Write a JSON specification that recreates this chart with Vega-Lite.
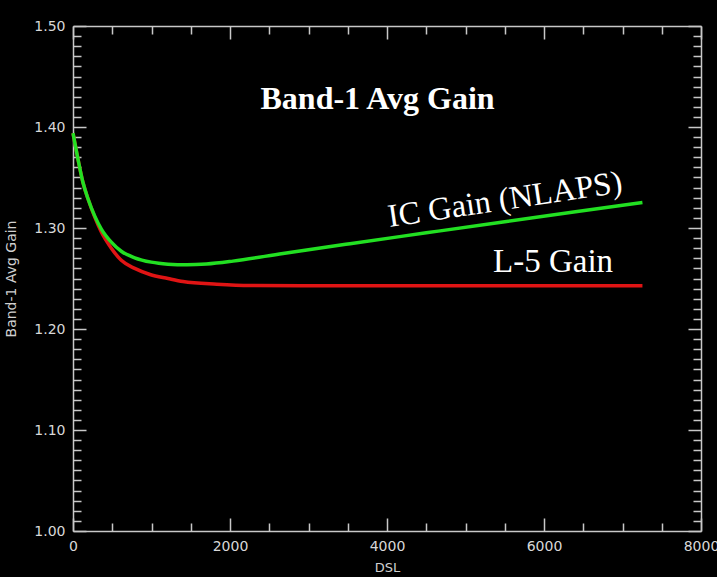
{
  "$schema": "https://vega.github.io/schema/vega-lite/v6.json",
  "width": 628,
  "height": 505,
  "autosize": "none",
  "padding": {"left": 73, "top": 26, "right": 16, "bottom": 46},
  "background": "black",
  "config": {
    "view": {"stroke": null},
    "axis": {
      "grid": false,
      "domainColor": "#c8c8c8",
      "domainWidth": 1.5,
      "tickColor": "#c8c8c8",
      "tickWidth": 1.5,
      "labelColor": "#d8d8d8",
      "labelFont": "DejaVu Sans",
      "labelFontSize": 14,
      "titleColor": "#d0d0d0",
      "titleFont": "DejaVu Sans",
      "titleFontSize": 13,
      "titleFontWeight": "normal"
    }
  },
  "datasets": {
    "curves": [
      {"series": "L-5 Gain", "dsl": 0, "gain": 1.394},
      {"series": "L-5 Gain", "dsl": 64, "gain": 1.368},
      {"series": "L-5 Gain", "dsl": 127, "gain": 1.345},
      {"series": "L-5 Gain", "dsl": 191, "gain": 1.329},
      {"series": "L-5 Gain", "dsl": 276, "gain": 1.311},
      {"series": "L-5 Gain", "dsl": 361, "gain": 1.296},
      {"series": "L-5 Gain", "dsl": 488, "gain": 1.28},
      {"series": "L-5 Gain", "dsl": 615, "gain": 1.268},
      {"series": "L-5 Gain", "dsl": 786, "gain": 1.26},
      {"series": "L-5 Gain", "dsl": 981, "gain": 1.254},
      {"series": "L-5 Gain", "dsl": 1210, "gain": 1.25},
      {"series": "L-5 Gain", "dsl": 1401, "gain": 1.247},
      {"series": "L-5 Gain", "dsl": 1831, "gain": 1.2443},
      {"series": "L-5 Gain", "dsl": 2255, "gain": 1.243},
      {"series": "L-5 Gain", "dsl": 3529, "gain": 1.2429},
      {"series": "L-5 Gain", "dsl": 5500, "gain": 1.2429},
      {"series": "L-5 Gain", "dsl": 7254, "gain": 1.2429},
      {"series": "IC Gain (NLAPS)", "dsl": 0, "gain": 1.394},
      {"series": "IC Gain (NLAPS)", "dsl": 64, "gain": 1.368},
      {"series": "IC Gain (NLAPS)", "dsl": 127, "gain": 1.345},
      {"series": "IC Gain (NLAPS)", "dsl": 191, "gain": 1.329},
      {"series": "IC Gain (NLAPS)", "dsl": 276, "gain": 1.312},
      {"series": "IC Gain (NLAPS)", "dsl": 361, "gain": 1.299},
      {"series": "IC Gain (NLAPS)", "dsl": 488, "gain": 1.286},
      {"series": "IC Gain (NLAPS)", "dsl": 615, "gain": 1.277},
      {"series": "IC Gain (NLAPS)", "dsl": 786, "gain": 1.2705},
      {"series": "IC Gain (NLAPS)", "dsl": 997, "gain": 1.2662},
      {"series": "IC Gain (NLAPS)", "dsl": 1210, "gain": 1.2642},
      {"series": "IC Gain (NLAPS)", "dsl": 1450, "gain": 1.2635},
      {"series": "IC Gain (NLAPS)", "dsl": 1700, "gain": 1.2643},
      {"series": "IC Gain (NLAPS)", "dsl": 2038, "gain": 1.2672},
      {"series": "IC Gain (NLAPS)", "dsl": 2675, "gain": 1.2748},
      {"series": "IC Gain (NLAPS)", "dsl": 3529, "gain": 1.2845},
      {"series": "IC Gain (NLAPS)", "dsl": 4500, "gain": 1.2952},
      {"series": "IC Gain (NLAPS)", "dsl": 5500, "gain": 1.3062},
      {"series": "IC Gain (NLAPS)", "dsl": 6400, "gain": 1.316},
      {"series": "IC Gain (NLAPS)", "dsl": 7254, "gain": 1.3252}
    ],
    "labels": [
      {"text": "Band-1 Avg Gain", "dsl": 3880, "gain": 1.428, "kind": "title"},
      {"text": "IC Gain (NLAPS)", "dsl": 5503, "gain": 1.328, "kind": "ic"},
      {"text": "L-5 Gain", "dsl": 6115, "gain": 1.266, "kind": "l5"}
    ]
  },
  "layer": [
    {
      "data": {"name": "curves"},
      "mark": {"type": "line", "strokeWidth": 3.5, "interpolate": "monotone"},
      "encoding": {
        "x": {
          "field": "dsl", "type": "quantitative",
          "scale": {"domain": [0, 8000], "nice": false, "zero": false},
          "axis": {
            "orient": "bottom",
            "values": [0,500,1000,1500,2000,2500,3000,3500,4000,4500,5000,5500,6000,6500,7000,7500,8000],
            "format": "d",
            "labelExpr": "datum.value % 2000 === 0 ? datum.label : ''",
            "tickSize": {"condition": {"test": "datum.value % 2000 === 0", "value": -13}, "value": -8},
            "labelPadding": 21,
            "labelFlush": false,
            "title": "DSL",
            "titlePadding": 8
          }
        },
        "y": {
          "field": "gain", "type": "quantitative",
          "scale": {"domain": [1.0, 1.5], "nice": false, "zero": false},
          "axis": {
            "orient": "left",
            "values": [1.0,1.01,1.02,1.03,1.04,1.05,1.06,1.07,1.08,1.09,1.1,1.11,1.12,1.13,1.14,1.15,1.16,1.17,1.18,1.19,1.2,1.21,1.22,1.23,1.24,1.25,1.26,1.27,1.28,1.29,1.3,1.31,1.32,1.33,1.34,1.35,1.36,1.37,1.38,1.39,1.4,1.41,1.42,1.43,1.44,1.45,1.46,1.47,1.48,1.49,1.5],
            "labelExpr": "abs(datum.value*10 - round(datum.value*10)) < 0.001 ? format(datum.value, '.2f') : ''",
            "tickSize": {"condition": {"test": "abs(datum.value*10 - round(datum.value*10)) < 0.001", "value": -13}, "value": -8},
            "labelPadding": 21,
            "labelFlush": false,
            "title": "Band-1 Avg Gain",
            "titleFontSize": 14,
            "titlePadding": 15
          }
        },
        "color": {
          "field": "series", "type": "nominal",
          "scale": {"domain": ["L-5 Gain", "IC Gain (NLAPS)"], "range": ["#e01414", "#22e022"]},
          "legend": null
        }
      }
    },
    {
      "data": {"name": "labels"},
      "transform": [{"filter": "datum.kind === 'title'"}],
      "mark": {"type": "text", "font": "Liberation Serif", "fontWeight": "bold", "fontSize": 32, "color": "white", "baseline": "middle", "align": "center"},
      "encoding": {
        "x": {
          "field": "dsl", "type": "quantitative",
          "axis": {
            "orient": "top",
            "values": [0,500,1000,1500,2000,2500,3000,3500,4000,4500,5000,5500,6000,6500,7000,7500,8000],
            "labels": false,
            "title": null,
            "tickSize": {"condition": {"test": "datum.value % 2000 === 0", "value": -13}, "value": -8}
          }
        },
        "y": {
          "field": "gain", "type": "quantitative",
          "axis": {
            "orient": "right",
            "values": [1.0,1.01,1.02,1.03,1.04,1.05,1.06,1.07,1.08,1.09,1.1,1.11,1.12,1.13,1.14,1.15,1.16,1.17,1.18,1.19,1.2,1.21,1.22,1.23,1.24,1.25,1.26,1.27,1.28,1.29,1.3,1.31,1.32,1.33,1.34,1.35,1.36,1.37,1.38,1.39,1.4,1.41,1.42,1.43,1.44,1.45,1.46,1.47,1.48,1.49,1.5],
            "labels": false,
            "title": null,
            "tickSize": {"condition": {"test": "abs(datum.value*10 - round(datum.value*10)) < 0.001", "value": -13}, "value": -8}
          }
        },
        "text": {"field": "text"}
      }
    },
    {
      "data": {"name": "labels"},
      "transform": [{"filter": "datum.kind === 'ic'"}],
      "mark": {"type": "text", "font": "Liberation Serif", "fontSize": 32.5, "angle": 351.5, "color": "white", "baseline": "middle", "align": "center"},
      "encoding": {
        "x": {"field": "dsl", "type": "quantitative", "axis": null},
        "y": {"field": "gain", "type": "quantitative", "axis": null},
        "text": {"field": "text"}
      }
    },
    {
      "data": {"name": "labels"},
      "transform": [{"filter": "datum.kind === 'l5'"}],
      "mark": {"type": "text", "font": "Liberation Serif", "fontSize": 33, "color": "white", "baseline": "middle", "align": "center"},
      "encoding": {
        "x": {"field": "dsl", "type": "quantitative", "axis": null},
        "y": {"field": "gain", "type": "quantitative", "axis": null},
        "text": {"field": "text"}
      }
    }
  ],
  "resolve": {"axis": {"x": "independent", "y": "independent"}}
}
